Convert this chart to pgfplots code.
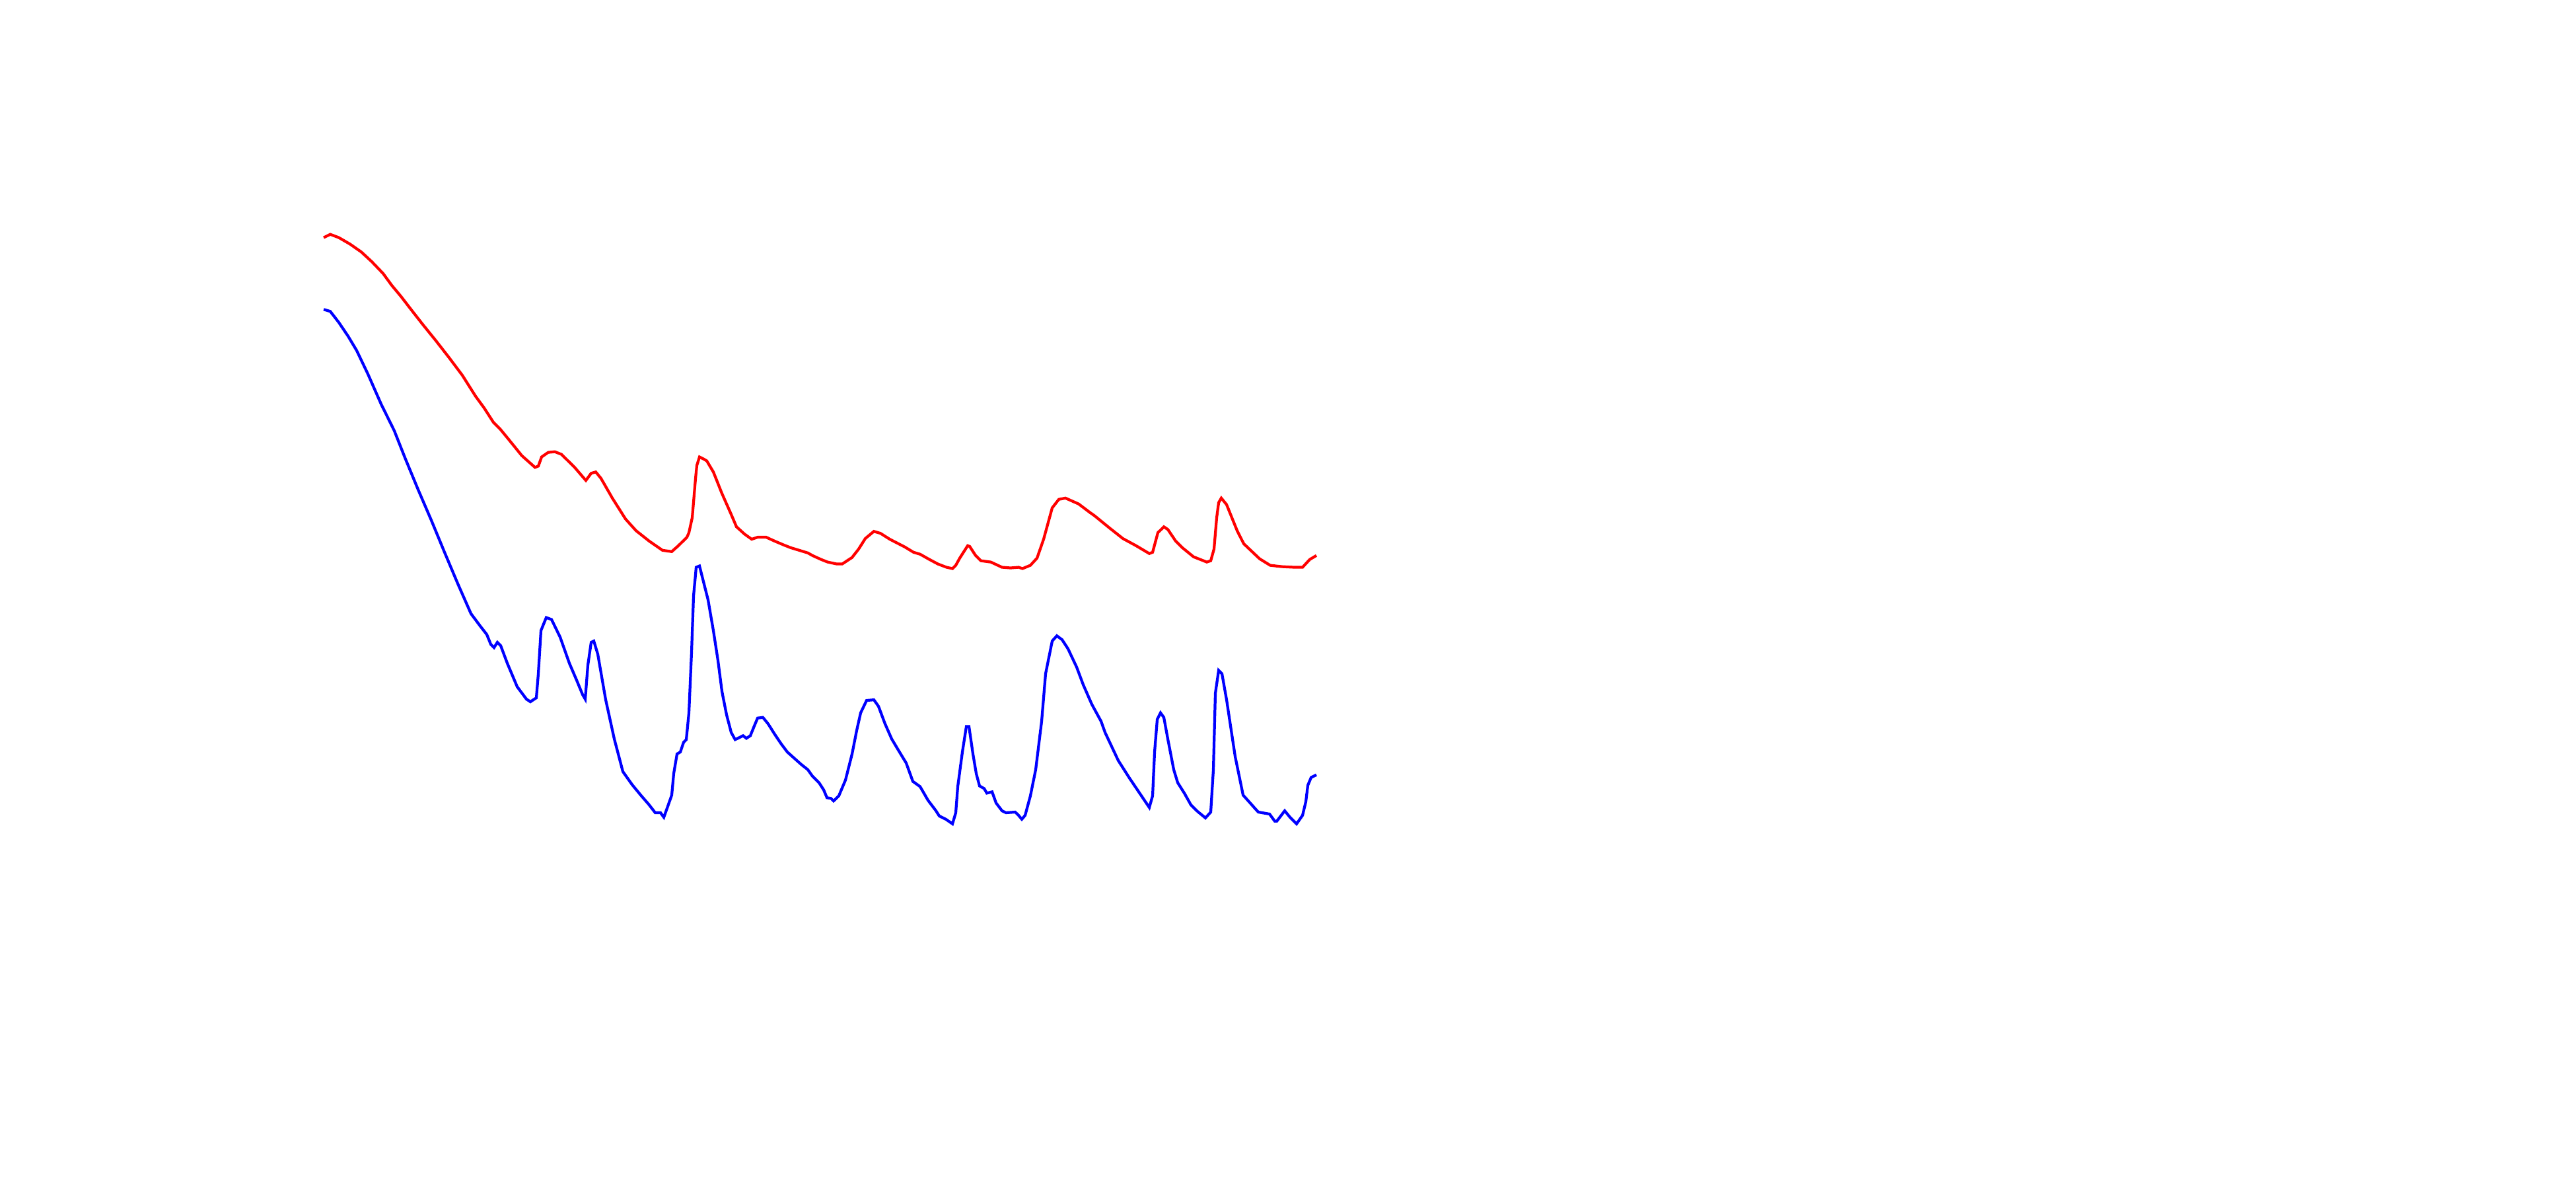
\documentclass[border=0pt]{standalone}
\usepackage{pgfplots}
\pgfplotsset{compat=1.18}
\begin{document}
\begin{tikzpicture}
\begin{axis}[
    width=39cm, height=18cm,
    scale only axis,
    hide axis,
    clip=false,
    xmin=0, xmax=3900,
    ymin=-4, ymax=1818,
    y dir=reverse,
]
% keep the page the size of the axis area
\path (rel axis cs:0,0) rectangle (rel axis cs:1,1);

% upper spectrum
\addplot[color=red, line width=1.2pt, sharp plot] coordinates {
(490,360) (500,355) (513,360) (530,370) (547,382) (563,397) (580,415) (593,433)
(607,450) (623,471) (640,493) (660,518) (680,544) (700,571) (720,603) (733,621)
(747,643) (757,653) (770,669) (790,694) (810,712) (815,710) (820,696) (830,689)
(840,688) (850,692) (870,712) (887,732) (895,721) (902,719) (910,729) (927,759)
(947,791) (963,809) (983,825) (1003,839) (1017,841) (1027,832) (1040,819) (1043,812)
(1048,789) (1053,729) (1055,709) (1059,696) (1065,699) (1070,702) (1080,719) (1093,752)
(1107,784) (1115,803) (1127,814) (1138,822) (1147,819) (1160,819) (1173,825) (1187,831)
(1197,835) (1210,839) (1223,843) (1230,847) (1243,853) (1253,857) (1267,860) (1275,860)
(1290,850) (1300,837) (1310,821) (1323,810) (1333,813) (1347,822) (1370,834) (1383,842)
(1393,845) (1407,853) (1420,860) (1433,865) (1442,867) (1447,862) (1453,851) (1465,832)
(1468,833) (1477,847) (1485,855) (1500,857) (1517,865) (1530,866) (1542,865) (1548,867)
(1560,862) (1570,851) (1580,822) (1593,774) (1603,761) (1613,759) (1633,768) (1650,781)
(1657,786) (1680,805) (1700,821) (1720,832) (1740,844) (1745,842) (1753,812) (1762,803)
(1768,807) (1780,825) (1790,835) (1807,849) (1827,857) (1833,855) (1838,837) (1842,789)
(1845,766) (1849,759) (1857,769) (1873,809) (1883,829) (1907,852) (1923,862) (1940,864)
(1960,865) (1972,865) (1983,853) (1993,847)
};

% lower spectrum
\addplot[color=blue, line width=1.2pt, sharp plot] coordinates {
(490,470) (500,473) (513,490) (527,511) (540,533) (557,569) (577,615) (597,656)
(613,697) (633,746) (653,793) (673,842) (693,890) (713,936) (727,955) (737,968)
(743,983) (748,988) (753,980) (758,985) (768,1012) (783,1048) (797,1067) (803,1071)
(812,1065) (815,1028) (819,962) (827,942) (835,945) (848,972) (862,1012) (873,1038)
(882,1060) (886,1067) (890,1015) (895,980) (899,978) (905,998) (917,1068) (930,1128)
(943,1178) (957,1198) (970,1214) (982,1228) (992,1241) (1000,1241) (1005,1248) (1010,1234)
(1017,1214) (1020,1181) (1025,1151) (1030,1148) (1035,1133) (1039,1129) (1043,1088) (1047,995)
(1050,909) (1054,865) (1059,863) (1072,915) (1080,962) (1087,1008) (1093,1055) (1100,1091)
(1107,1118) (1113,1129) (1125,1123) (1130,1127) (1136,1123) (1142,1108) (1147,1096) (1155,1095)
(1163,1105) (1173,1121) (1183,1136) (1192,1148) (1203,1158) (1213,1167) (1223,1175) (1230,1185)
(1240,1195) (1247,1206) (1252,1218) (1258,1219) (1262,1223) (1270,1215) (1280,1191) (1290,1151)
(1297,1115) (1303,1088) (1312,1069) (1323,1068) (1330,1078) (1340,1105) (1350,1128) (1360,1145)
(1372,1165) (1382,1193) (1393,1201) (1405,1222) (1417,1238) (1422,1246) (1432,1251) (1442,1258)
(1447,1241) (1450,1201) (1457,1148) (1463,1109) (1467,1109) (1473,1151) (1478,1181) (1483,1200)
(1490,1204) (1494,1211) (1502,1209) (1508,1226) (1517,1238) (1523,1241) (1537,1240) (1542,1245)
(1547,1251) (1552,1245) (1560,1215) (1568,1175) (1577,1101) (1583,1028) (1593,978) (1600,970)
(1608,976) (1617,990) (1630,1018) (1640,1045) (1653,1075) (1667,1101) (1673,1118) (1693,1161)
(1710,1188) (1730,1218) (1740,1233) (1745,1215) (1748,1148) (1752,1098) (1757,1088) (1762,1095)
(1768,1128) (1777,1175) (1783,1195) (1793,1211) (1803,1229) (1813,1239) (1825,1249) (1833,1240)
(1837,1175) (1840,1058) (1845,1023) (1850,1028) (1857,1068) (1870,1155) (1882,1214) (1897,1231)
(1905,1240) (1922,1243) (1930,1254) (1933,1254) (1945,1238) (1953,1248) (1963,1258) (1972,1245)
(1977,1224) (1980,1199) (1985,1187) (1993,1183)
};
\end{axis}
\end{tikzpicture}
\end{document}
